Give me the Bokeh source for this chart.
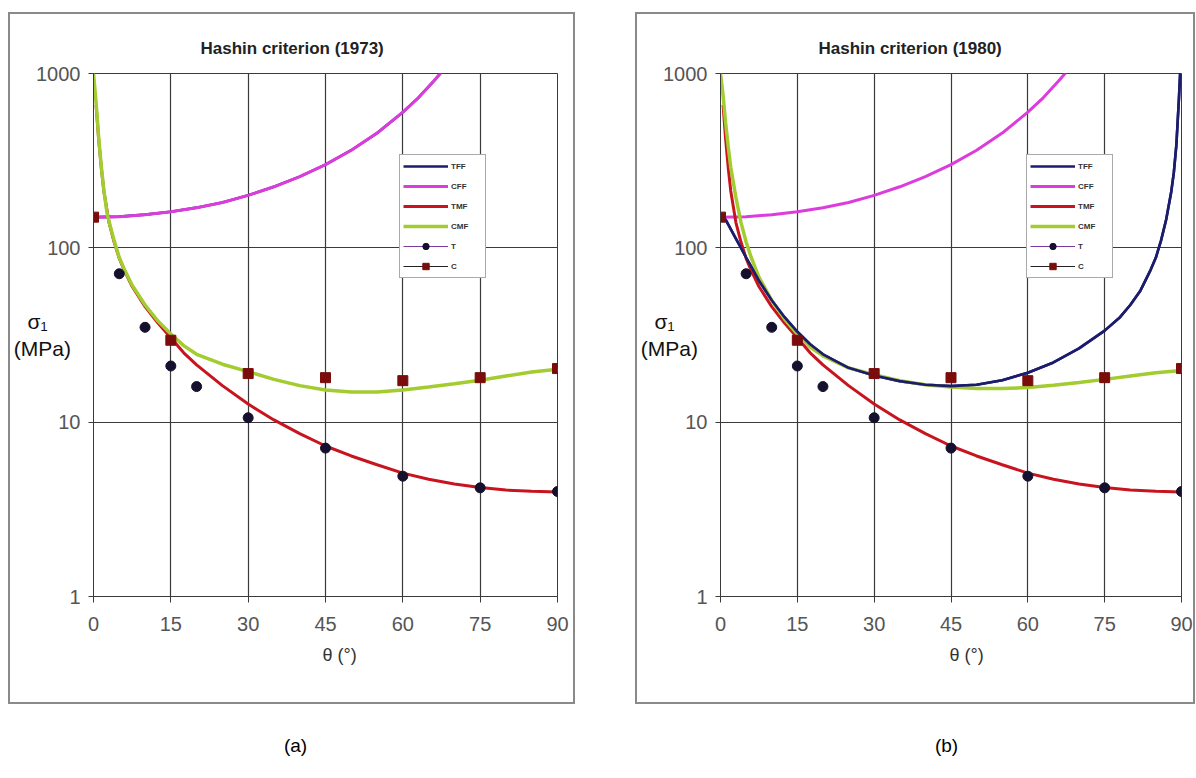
from bokeh.plotting import figure
from bokeh.models import FixedTicker, Label, Legend, LegendItem, Range1d, Title
from bokeh.layouts import row, column
from bokeh.embed import file_html
from bokeh.resources import INLINE

NAN = float("nan")

# ---------------- data ----------------
titles = ["Hashin criterion (1973)", "Hashin criterion (1980)"]
panel_tags = ["(a)", "(b)"]
x_label = "θ (°)"
y_label = "σ₁\u00a0\u00a0\u00a0\u00a0\n(MPa)"
x_ticks = [0, 15, 30, 45, 60, 75, 90]
y_ticks = [1, 10, 100, 1000]
y_tick_labels = ["1", "10", "100", "1000"]
legend_labels = ["TFF", "CFF", "TMF", "CMF", "T", "C"]

# CFF (same in both panels)
theta_cff = [0, 5, 10, 15, 20, 25, 30, 35, 40, 45, 50, 55, 60, 63, 66, 68]
cff = [150, 151, 155, 161, 170, 182, 200, 224, 256, 300, 363, 455, 600, 725, 905, 1060]

# TMF (same in both panels)
theta_tmf = [0.5, 1, 1.5, 2, 3, 4, 5, 6, 7.5, 10, 12.5, 15, 17.5, 20, 25, 30, 35, 40,
             45, 50, 55, 60, 65, 70, 75, 80, 85, 90]
tmf = [660, 420, 290, 212, 140, 108, 87, 74, 60, 46, 37, 30.5, 25, 21.3, 16.2, 12.7, 10.3, 8.6,
       7.3, 6.4, 5.7, 5.1, 4.7, 4.42, 4.22, 4.08, 4.01, 3.98]

# CMF, Hashin 1973
theta_cmf_a = [0, 0.5, 1, 1.5, 2, 2.6, 3, 4, 5, 6, 7.5, 10, 12.5, 15, 17.5, 20, 25, 30, 35,
               40, 45, 50, 55, 60, 65, 70, 75, 80, 85, 90]
cmf_a = [1000, 680, 430, 295, 215, 160, 142, 110, 88, 75, 61, 47, 38, 32, 27.5, 24.5, 21.5, 19.5, 17.6,
         16.2, 15.3, 14.9, 14.9, 15.3, 15.9, 16.6, 17.4, 18.4, 19.4, 20.1]

# CMF, Hashin 1980
theta_cmf_b = [0, 0.5, 1, 1.5, 2, 3, 4, 5, 6, 7.5, 10, 12.5, 15, 17.5, 20, 25, 30, 35, 40,
               45, 50, 55, 60, 65, 70, 75, 80, 85, 90]
cmf_b = [1000, 750, 520, 380, 290, 195, 140, 108, 88, 68, 50, 39, 32, 27, 24, 20.5, 18.7, 17.3, 16.4,
         15.9, 15.6, 15.6, 15.8, 16.3, 16.9, 17.6, 18.4, 19.2, 19.8]

# TFF: 1973 curve lies under the CFF curve; 1980 curve
theta_tff_a = [0, 5, 10, 15, 20, 25, 30, 35, 40, 45, 50, 55, 60, 63, 66, 68]
tff_a = [150, 151, 155, 161, 170, 182, 200, 224, 256, 300, 363, 455, 600, 725, 905, 1060]
theta_tff_b = [0, 1, 2, 3, 4, 5, 6, 7.5, 10, 12.5, 15, 17.5, 20, 25, 30, 35, 40, 45, 50, 55,
               60, 65, 70, 75, 78, 80, 82, 84, 85, 86, 87, 88, 88.5, 89, 89.5, 89.8]
tff_b = [150, 145, 128, 113, 100, 88, 78, 65, 50, 40, 33, 28, 24.5, 20.5, 18.5, 17.2, 16.4, 16.1, 16.4, 17.4,
         19.2, 22, 26.5, 33.5, 40, 47, 57, 75, 88, 110, 145, 210, 270, 390, 720, 1100]

# experimental points
theta_t = [5, 10, 15, 20, 30, 45, 60, 75, 90]
t_exp = [71, 35, 21, 16, 10.6, 7.1, 4.9, 4.2, 4.0]
theta_c = [0, 15, 30, 45, 60, 75, 90]
c_exp = [150, 29.5, 19, 18, 17.3, 18, 20.3]

# ---------------- style ----------------
C_TFF = "#1c1c6e"
C_CFF = "#dc3cdc"
C_TMF = "#c8141e"
C_CMF = "#a2cc30"
C_T = "#15102e"
C_C = "#7a0c0c"
GRID = "#3a3a3a"
FONT = "Liberation Sans"


def make_panel(idx, width, b_left, b_right, margin_left, title_off, xlab_off,
               theta_tff, tff, theta_cmf, cmf):
    p = figure(width=width, height=688, y_axis_type="log",
               x_range=Range1d(0, 90), y_range=Range1d(1, 1000),
               min_border_left=b_left, min_border_right=b_right,
               min_border_top=59, min_border_bottom=106,
               output_backend="svg", toolbar_location=None,
               background_fill_color="white", border_fill_color="white",
               outline_line_color=GRID, outline_line_width=1,
               margin=(14, 0, 0, margin_left),
               styles={"outline": "2px solid #8a8a8a"})

    # title
    p.title.text = titles[idx]
    p.title.align = "left"
    p.title.offset = title_off
    p.title.standoff = 31
    p.title.text_font = FONT
    p.title.text_font_size = "17px"
    p.title.text_font_style = "bold"
    p.title.text_color = "#222222"

    # axes and grid
    p.xaxis.ticker = FixedTicker(ticks=x_ticks)
    p.yaxis.ticker = FixedTicker(ticks=y_ticks)
    p.yaxis.major_label_overrides = {v: s for v, s in zip(y_ticks, y_tick_labels)}
    for ax in (p.xaxis, p.yaxis):
        ax.axis_line_color = GRID
        ax.axis_line_width = 1
        ax.major_tick_line_color = GRID
        ax.minor_tick_line_color = None
        ax.major_tick_in = 0
        ax.major_label_text_font = FONT
        ax.major_label_text_font_size = "20px"
        ax.major_label_text_color = "#555555"
    p.xaxis.major_tick_out = 6
    p.xaxis.major_label_standoff = 14
    p.yaxis.major_tick_out = 5
    p.yaxis.major_label_standoff = 8
    p.yaxis.axis_label = y_label
    p.yaxis.axis_label_orientation = "horizontal"
    p.yaxis.axis_label_standoff = -38
    p.yaxis.axis_label_text_font = FONT
    p.yaxis.axis_label_text_font_size = "21px"
    p.yaxis.axis_label_text_font_style = "normal"
    p.yaxis.axis_label_text_color = "#111111"
    p.xgrid.grid_line_color = GRID
    p.ygrid.grid_line_color = GRID
    p.xgrid.grid_line_width = 1.2
    p.ygrid.grid_line_width = 1.2

    p.add_layout(Title(text=x_label, align="left", offset=xlab_off, standoff=18,
                       text_font=FONT, text_font_size="18px", text_font_style="normal",
                       text_color="#333333"), "below")

    # curves
    r_tff = p.line(theta_tff, tff, line_color=C_TFF, line_width=2.6)
    r_cff = p.line(theta_cff, cff, line_color=C_CFF, line_width=3)
    r_tmf = p.line(theta_tmf, tmf, line_color=C_TMF, line_width=3)
    r_cmf = p.line(theta_cmf, cmf, line_color=C_CMF, line_width=3.5)
    if idx == 1:
        # in the 1980 panel the TFF curve shows on top of CMF
        r_tff = p.line(theta_tff, tff, line_color=C_TFF, line_width=2.6)
    # legend-only connector lines for the experimental series
    r_tl = p.line([NAN], [NAN], line_color="#7a3aa0", line_width=1)
    r_cl = p.line([NAN], [NAN], line_color="#222222", line_width=1)
    r_t = p.scatter(theta_t, t_exp, marker="circle", size=10, fill_color=C_T, line_color=C_T)
    r_c = p.scatter(theta_c, c_exp, marker="square", size=10, fill_color=C_C, line_color=C_C)

    items = [
        LegendItem(label=legend_labels[0], renderers=[r_tff]),
        LegendItem(label=legend_labels[1], renderers=[r_cff]),
        LegendItem(label=legend_labels[2], renderers=[r_tmf]),
        LegendItem(label=legend_labels[3], renderers=[r_cmf]),
        LegendItem(label=legend_labels[4], renderers=[r_tl, r_t]),
        LegendItem(label=legend_labels[5], renderers=[r_cl, r_c]),
    ]
    legend = Legend(items=items, location=(306, 596 - 278),
                    border_line_color="#555555", border_line_width=1,
                    background_fill_color="white", background_fill_alpha=1.0,
                    label_text_font=FONT, label_text_font_size="8px",
                    label_text_font_style="bold", label_text_color="#333333",
                    glyph_width=45, glyph_height=16, label_height=16, label_width=31,
                    spacing=4, padding=3, margin=0, label_standoff=3)
    p.add_layout(legend)
    return p


def make_tag(idx, width, margin_left, x_center):
    q = figure(width=width, height=40, x_range=Range1d(0, 1), y_range=Range1d(0, 1),
               min_border_left=0, min_border_right=0, min_border_top=0, min_border_bottom=0,
               output_backend="svg", toolbar_location=None, outline_line_color=None,
               background_fill_color="white", border_fill_color="white",
               margin=(23, 0, 0, margin_left))
    q.axis.visible = False
    q.grid.visible = False
    q.add_layout(Label(x=x_center, y=20, x_units="screen", y_units="screen",
                       text=panel_tags[idx], text_font=FONT, text_font_size="19px",
                       text_color="#000000", text_align="center", text_baseline="middle"))
    return q


pa = make_panel(0, 563, 82, 16, 10, 107, 229, theta_tff_a, tff_a, theta_cmf_a, cmf_a)
pb = make_panel(1, 556, 79, 12, 64, 98, 229, theta_tff_b, tff_b, theta_cmf_b, cmf_b)
ta = make_tag(0, 563, 10, 202)
tb = make_tag(1, 556, 64, 226)

layout = row(column(pa, ta, spacing=0), column(pb, tb, spacing=0), spacing=0)
open("out.html", "w").write(file_html(layout, INLINE))
